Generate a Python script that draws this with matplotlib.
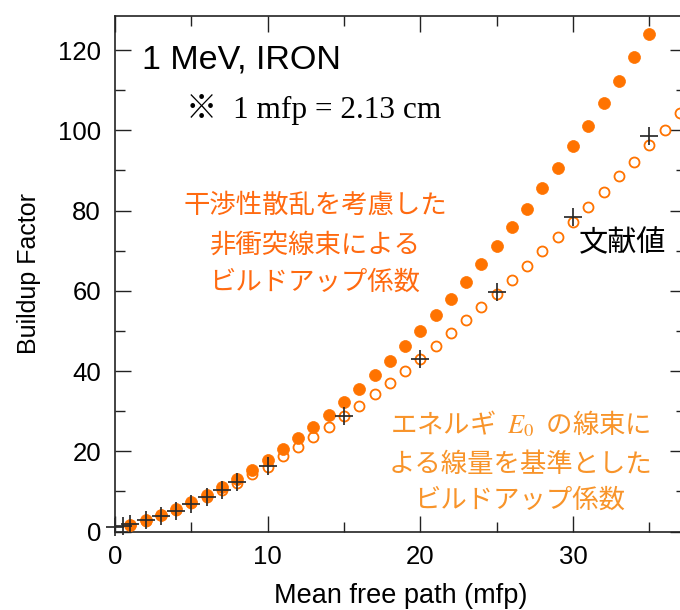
import matplotlib
matplotlib.use("Agg")
import matplotlib.pyplot as plt
from matplotlib.ticker import MultipleLocator

# Mean free path positions (mfp)
x_uncollided = list(range(1, 36))
x_energy = list(range(1, 38))
x_ref = [0, 0.5, 1, 2, 3, 4, 5, 6, 7, 8, 10, 15, 20, 25, 30, 35]

# Buildup factor: uncollided flux including coherent scattering (filled)
b_uncollided = [1.7, 2.8, 4.2, 5.7, 7.4, 9.2, 11.1, 13.2, 15.3, 17.7,
                20.5, 23.2, 26.0, 29.0, 32.3, 35.5, 38.9, 42.5, 46.3, 50.0,
                54.0, 58.0, 62.1, 66.6, 71.1, 75.8, 80.5, 85.6, 90.7, 96.0,
                101.2, 106.9, 112.4, 118.2, 124.1]

# Buildup factor referenced to dose from E0 flux (open)
b_energy = [1.6, 2.7, 4.0, 5.4, 7.0, 8.6, 10.3, 12.2, 14.3, 16.2,
            18.7, 21.1, 23.6, 26.1, 28.7, 31.3, 34.2, 37.0, 40.0, 42.9,
            46.2, 49.5, 52.6, 55.9, 59.2, 62.7, 66.1, 69.8, 73.3, 77.1,
            80.8, 84.7, 88.5, 92.2, 96.3, 100.1, 104.4]

# Literature values
b_ref = [1.0, 1.4, 1.8, 2.9, 3.9, 5.1, 6.8, 8.5, 10.3, 12.4,
         16.4, 28.7, 43.1, 59.7, 78.5, 98.5]

x_ticks = [0, 10, 20, 30]
y_ticks = [0, 20, 40, 60, 80, 100, 120]

ORANGE = "#ff7300"
ORANGE_TXT1 = "#ff6a10"
ORANGE_TXT2 = "#f8942a"
INK = "#222222"

W, H = 680, 610
fig = plt.figure(figsize=(W / 100, H / 100), dpi=100)

def fx(px):
    return px / W

def fy(py):
    return 1 - py / H

left, right, top, bottom = 115, 686, 16, 531.5
ax = fig.add_axes([fx(left), fy(bottom), fx(right - left), (bottom - top) / H])

sans = ["Liberation Sans", "Noto Sans CJK JP"]
serif = ["Liberation Serif", "Noto Sans CJK JP"]
jp = ["Noto Sans CJK JP", "Liberation Sans"]
plt.rcParams["mathtext.fontset"] = "stix"

ax.plot(x_energy, b_energy, linestyle="none", marker="o", markersize=7.2,
        markerfacecolor="white", markeredgecolor=ORANGE, markeredgewidth=1.3,
        zorder=3)
ax.plot(x_uncollided, b_uncollided, linestyle="none", marker="o",
        markersize=8.6, markerfacecolor=ORANGE, markeredgecolor=ORANGE,
        markeredgewidth=0.5, zorder=4)
ax.plot(x_ref, b_ref, linestyle="none", marker="+", markersize=12.5,
        markeredgewidth=1.25, color="#2a2a2a", zorder=5, clip_on=False)

ax.set_xlim(0, 37.4)
ax.set_ylim(0, 128.5)
ax.set_xticks(x_ticks)
ax.set_yticks(y_ticks)
ax.xaxis.set_minor_locator(MultipleLocator(5))
ax.yaxis.set_minor_locator(MultipleLocator(10))
ax.tick_params(which="both", direction="in", top=True, right=True,
               color=INK, width=1.0)
ax.tick_params(which="major", length=11.5, labelsize=18.5)
ax.tick_params(which="minor", length=7)
ax.tick_params(axis="x", which="major", pad=9.5)
ax.tick_params(axis="y", which="major", pad=10)
for lab in ax.get_xticklabels() + ax.get_yticklabels():
    lab.set_family(sans)
for sp in ax.spines.values():
    sp.set_color(INK)
    sp.set_linewidth(1.2)

ax.set_xlabel("Mean free path (mfp)", family=sans, fontsize=19.5, labelpad=10.5)
ax.set_ylabel("Buildup Factor", family=sans, fontsize=18, labelpad=12.5)

fig.text(fx(142), fy(60), "1 MeV, IRON", family=sans, fontsize=24.5,
         ha="left", va="center", color="black")
fig.text(fx(186), fy(110), "※", family=serif, fontsize=22.5,
         ha="left", va="center", color="black")
fig.text(fx(233), fy(110), "1 mfp = 2.13 cm", family=serif, fontsize=22.5,
         ha="left", va="center", color="black")

for txt, py in [("干渉性散乱を考慮した", 205), ("非衝突線束による", 245),
                ("ビルドアップ係数", 282)]:
    fig.text(fx(315), fy(py), txt, family=jp, fontsize=19, ha="center",
             va="center", color=ORANGE_TXT1)

fig.text(fx(623), fy(243), "文献値", family=jp, fontsize=21, ha="center",
         va="center", color="black")

for txt, py in [("エネルギ  $E_0$  の線束に", 424), ("よる線量を基準とした", 464),
                ("ビルドアップ係数", 500)]:
    fig.text(fx(520), fy(py), txt, family=jp, fontsize=19, ha="center",
             va="center", color=ORANGE_TXT2)

fig.savefig("out.png", dpi=100)
